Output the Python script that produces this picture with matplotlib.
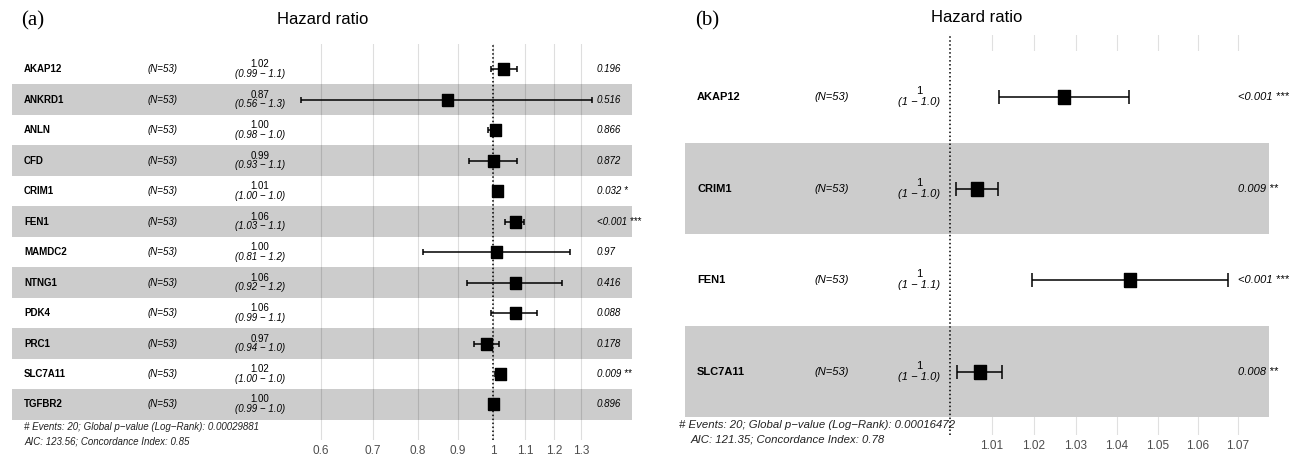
import matplotlib
matplotlib.use('Agg')
import matplotlib.pyplot as plt
import numpy as np
from matplotlib.transforms import blended_transform_factory, offset_copy

plt.rcParams['font.family'] = 'Liberation Sans'

# ---- panel (a) data ----
genes_a = ['AKAP12', 'ANKRD1', 'ANLN', 'CFD', 'CRIM1', 'FEN1', 'MAMDC2',
           'NTNG1', 'PDK4', 'PRC1', 'SLC7A11', 'TGFBR2']
hr_a = [1.031, 0.872, 1.005, 1.000, 1.012, 1.066, 1.008, 1.066, 1.066, 0.978, 1.021, 1.000]
lo_a = [0.993, 0.565, 0.985, 0.930, 1.002, 1.037, 0.812, 0.925, 0.995, 0.944, 1.006, 0.990]
hi_a = [1.073, 1.340, 1.015, 1.073, 1.022, 1.096, 1.257, 1.229, 1.140, 1.017, 1.034, 1.012]
est_a = ['1.02', '0.87', '1.00', '0.99', '1.01', '1.06', '1.00', '1.06', '1.06', '0.97', '1.02', '1.00']
ci_a = ['(0.99 \u2212 1.1)', '(0.56 \u2212 1.3)', '(0.98 \u2212 1.0)', '(0.93 \u2212 1.1)',
        '(1.00 \u2212 1.0)', '(1.03 \u2212 1.1)', '(0.81 \u2212 1.2)', '(0.92 \u2212 1.2)',
        '(0.99 \u2212 1.1)', '(0.94 \u2212 1.0)', '(1.00 \u2212 1.0)', '(0.99 \u2212 1.0)']
p_a = ['0.196', '0.516', '0.866', '0.872', '0.032 *', '<0.001 ***', '0.97', '0.416',
       '0.088', '0.178', '0.009 **', '0.896']
ticks_a = [0.6, 0.7, 0.8, 0.9, 1, 1.1, 1.2, 1.3]
tick_labels_a = ['0.6', '0.7', '0.8', '0.9', '1', '1.1', '1.2', '1.3']
foot_a = ['# Events: 20; Global p\u2212value (Log\u2212Rank): 0.00029881',
          'AIC: 123.56; Concordance Index: 0.85']

# ---- panel (b) data ----
genes_b = ['AKAP12', 'CRIM1', 'FEN1', 'SLC7A11']
hr_b = [1.0272, 1.0065, 1.0432, 1.0071]
lo_b = [1.0117, 1.0016, 1.0195, 1.0017]
hi_b = [1.0430, 1.0113, 1.0674, 1.0124]
est_b = ['1', '1', '1', '1']
ci_b = ['(1 \u2212 1.0)', '(1 \u2212 1.0)', '(1 \u2212 1.1)', '(1 \u2212 1.0)']
p_b = ['<0.001 ***', '0.009 **', '<0.001 ***', '0.008 **']
ticks_b = [1.01, 1.02, 1.03, 1.04, 1.05, 1.06, 1.07]
tick_labels_b = ['1.01', '1.02', '1.03', '1.04', '1.05', '1.06', '1.07']
foot_b = ['# Events: 20; Global p\u2212value (Log\u2212Rank): 0.00016472',
          'AIC: 121.35; Concordance Index: 0.78']

W, H = 1293, 457
fig = plt.figure(figsize=(W / 100, H / 100), dpi=100)


def fx(px):
    return px / W


def fy(py):
    return 1 - py / H


box = [(-0.44, -0.5), (0.44, -0.5), (0.44, 0.5), (-0.44, 0.5), (-0.44, -0.5)]
band = '#cccccc'


def panel(rect, xlim, ylim, genes, hr, lo, hi, est, ci, pv, ticks, tlabels,
          cols, fs, cap, ms, est_off, white_rows, grid_over):
    ax = fig.add_axes(rect)
    ax.set_xscale('log')
    ax.set_xlim(*xlim)
    ax.set_ylim(*ylim)
    rows = np.arange(len(genes))
    for r in rows:
        if r % 2 == 1:
            ax.axhspan(r - 0.5, r + 0.5, color=band, lw=0, zorder=1)
        elif white_rows:
            ax.axhspan(r - 0.5, r + 0.5, color='white', lw=0, zorder=1)
    ax.set_xticks(ticks)
    ax.set_xticklabels(tlabels)
    ax.minorticks_off()
    ax.set_yticks([])
    ax.tick_params(axis='x', length=0, pad=3.5, labelsize=8.5, labelcolor='#4d4d4d')
    for s in ax.spines.values():
        s.set_visible(False)
    if grid_over:
        ax.set_axisbelow(False)
        ax.grid(axis='x', color='black', alpha=0.13, lw=0.8)
    else:
        ax.set_axisbelow(True)
        ax.grid(axis='x', color='#e0e0e0', lw=0.8)
    ax.axvline(1, color='black', ls=(0, (1, 1.6)), lw=1.1, zorder=2.6)
    hr = np.array(hr)
    ax.errorbar(hr, rows, xerr=[hr - np.array(lo), np.array(hi) - hr], fmt='none',
                ecolor='black', elinewidth=1.1, capsize=cap, capthick=1.1, zorder=3)
    ax.plot(hr, rows, ls='none', marker=box, ms=ms, color='black', zorder=4)

    tr = blended_transform_factory(fig.transFigure, ax.transData)
    for r in rows:
        ax.text(fx(cols[0]), r, genes[r], transform=tr, fontsize=fs,
                fontweight='bold', va='center', ha='left')
        ax.text(fx(cols[1]), r, '(N=53)', transform=tr, fontsize=fs,
                style='italic', va='center', ha='left')
        ax.text(fx(cols[2]), r, est[r], fontsize=fs, va='center', ha='center',
                transform=offset_copy(tr, fig=fig, y=est_off[0], units='dots'))
        ax.text(fx(cols[2]), r, ci[r], fontsize=fs, style='italic', va='center',
                ha='center', transform=offset_copy(tr, fig=fig, y=est_off[1], units='dots'))
        ax.text(fx(cols[3]), r, pv[r], transform=tr, fontsize=fs,
                style='italic', va='center', ha='left')
    return ax


panel([fx(12), fy(440), (632 - 12) / W, (440 - 44) / H], (0.2397, 1.511), (12.164, -0.82),
      genes_a, hr_a, lo_a, hi_a, est_a, ci_a, p_a, ticks_a, tick_labels_a,
      [24, 148, 260, 597], 7, 2.5, 9, (5, -4.5), False, True)

panel([fx(685), fy(435), (1269 - 685) / W, (435 - 35) / H], (0.93982, 1.0778), (3.694, -0.678),
      genes_b, hr_b, lo_b, hi_b, est_b, ci_b, p_b, ticks_b, tick_labels_b,
      [697, 814, 919, 1238], 8, 5, 9.5, (6, -5), True, False)

# titles, panel letters, footers
fig.text(fx(33), fy(21), '(a)', family='Liberation Serif', fontsize=15, ha='center', va='center')
fig.text(fx(707), fy(21), '(b)', family='Liberation Serif', fontsize=15, ha='center', va='center')
fig.text(fx(323), fy(19), 'Hazard ratio', fontsize=12, ha='center', va='center')
fig.text(fx(977), fy(18), 'Hazard ratio', fontsize=12, ha='center', va='center')

fig.text(fx(24), fy(427), foot_a[0], fontsize=7, style='italic', va='center', color='#222222')
fig.text(fx(24), fy(442), foot_a[1], fontsize=7, style='italic', va='center', color='#222222')
fig.text(fx(679), fy(425), foot_b[0], fontsize=8.2, style='italic', va='center', color='#222222')
fig.text(fx(691), fy(440), foot_b[1], fontsize=8.2, style='italic', va='center', color='#222222')

fig.savefig('out.png', dpi=100)
